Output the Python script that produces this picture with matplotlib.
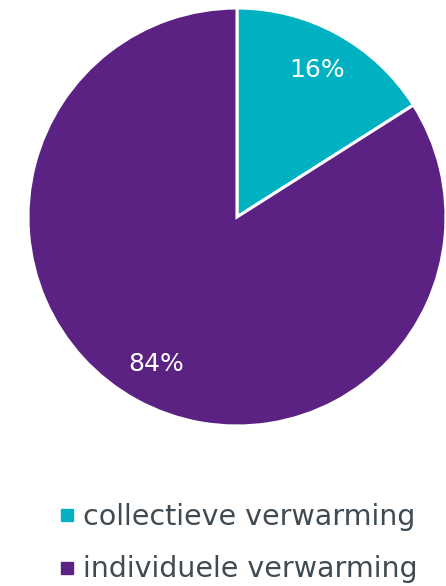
import matplotlib.pyplot as plt
from matplotlib.lines import Line2D

# data
labels = ["collectieve verwarming", "individuele verwarming"]
shares = [16, 84]
colors = ["#00B2C1", "#5B2283"]

fig = plt.figure(figsize=(4.46, 5.86), dpi=100)
ax = fig.add_axes([28 / 446, 160 / 586, 418 / 446, 418 / 586])

wedges, texts, autotexts = ax.pie(
    shares, colors=colors, startangle=90, counterclock=False,
    autopct="%d%%", pctdistance=0.8,
    wedgeprops=dict(edgecolor="white", linewidth=2.2),
    textprops=dict(color="white", fontsize=18),
)
ax.set_xlim(-1, 1)
ax.set_ylim(-1, 1)
ax.set_aspect("equal")

handles = [Line2D([], [], marker="s", linestyle="none", markersize=9,
                  color=c) for c in colors]
fig.legend(handles, labels, loc="upper left",
           bbox_to_anchor=(59 / 446, 1 - 503 / 586),
           frameon=False, borderpad=0, borderaxespad=0,
           handlelength=0.55, handletextpad=0.3, labelspacing=0.86,
           labelcolor="#3F4A52", fontsize=20.5)

fig.savefig("out.png", dpi=100)
